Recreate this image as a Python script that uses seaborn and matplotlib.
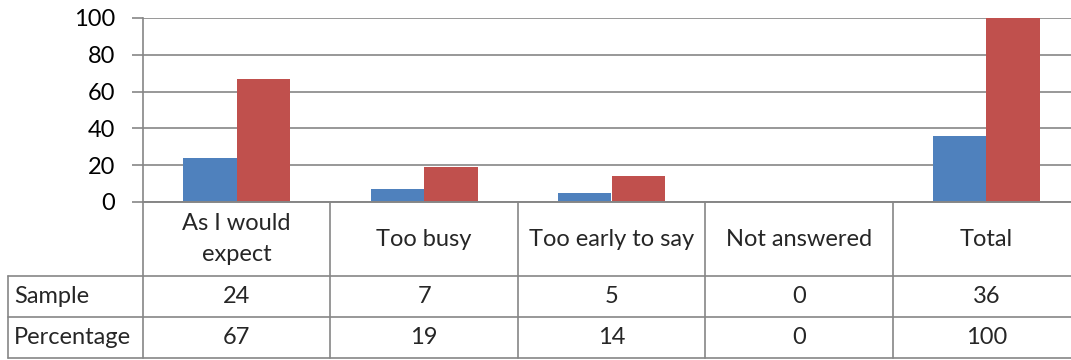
import matplotlib
matplotlib.use("Agg")
import matplotlib.pyplot as plt
import seaborn as sns
import pandas as pd

categories = ["As I would\nexpect", "Too busy", "Too early to say", "Not answered", "Total"]
series_names = ["Sample", "Percentage"]
sample = [24, 7, 5, 0, 36]
percentage = [67, 19, 14, 0, 100]
y_ticks = [0, 20, 40, 60, 80, 100]

colors = ["#4F81BD", "#C0504D"]
grid_color = "#868686"
font = "Lato"

df = pd.DataFrame({
    "category": categories * 2,
    "series": [series_names[0]] * len(categories) + [series_names[1]] * len(categories),
    "value": sample + percentage,
})

sns.set_theme(style="white")
plt.rcParams["font.family"] = [font, "DejaVu Sans"]

W, H = 1071, 360
fig = plt.figure(figsize=(W / 100, H / 100), dpi=100)

# plot area in pixel coordinates of the figure
px_left, px_right, px_top, px_bottom = 143, 1080, 18, 202
ax = fig.add_axes([px_left / W, 1 - px_bottom / H,
                   (px_right - px_left) / W, (px_bottom - px_top) / H])

sns.barplot(data=df, x="category", y="value", hue="series", order=categories,
            hue_order=series_names, palette=colors, width=0.57, gap=0,
            saturation=1, ax=ax, legend=False, linewidth=0)

fs = 17
ax.set_xlim(-0.5, len(categories) - 0.5)
ax.set_ylim(0, 100)
ax.set_yticks(y_ticks)
ax.set_yticklabels([str(t) for t in y_ticks], fontsize=fs, color="black")
ax.set_xticks([])
ax.set_xlabel("")
ax.set_ylabel("")
ax.yaxis.grid(True, color=grid_color, linewidth=1.2)
ax.set_axisbelow(True)
for s in ["top", "right"]:
    ax.spines[s].set_visible(False)
ax.spines["left"].set_color(grid_color)
ax.spines["left"].set_linewidth(1.2)
ax.spines["bottom"].set_color(grid_color)
ax.spines["bottom"].set_linewidth(1.2)
ax.tick_params(axis="y", direction="out", length=8, width=1.2, color=grid_color, pad=12, left=True)

# data table below the plot
tb_left, tb_bottom = 8, 358
cat_px = (px_right - px_left) / len(categories)
tax = fig.add_axes([tb_left / W, 1 - tb_bottom / H,
                    (px_right - tb_left) / W, (tb_bottom - px_bottom) / H])
x0 = -0.5 - (px_left - tb_left) / cat_px
tax.set_xlim(x0, len(categories) - 0.5)
tax.set_ylim(tb_bottom - px_bottom, 0)
tax.axis("off")

row_edges = [0, 74, 115, 156]
lw = 1.2
# horizontal rules
tax.plot([-0.5, len(categories) - 0.5], [row_edges[0]] * 2, color=grid_color, lw=lw, clip_on=False)
for r in row_edges[1:]:
    tax.plot([x0, len(categories) - 0.5], [r, r], color=grid_color, lw=lw, clip_on=False)
# vertical rules
tax.plot([x0, x0], [row_edges[1], row_edges[3]], color=grid_color, lw=lw, clip_on=False)
for i in range(len(categories) + 1):
    tax.plot([i - 0.5, i - 0.5], [row_edges[0], row_edges[3]], color=grid_color, lw=lw, clip_on=False)

for i, c in enumerate(categories):
    tax.text(i, (row_edges[0] + row_edges[1]) / 2, c, ha="center", va="center",
             fontsize=fs, linespacing=1.55)
rows = [sample, percentage]
for j, (name, vals) in enumerate(zip(series_names, rows)):
    yc = (row_edges[j + 1] + row_edges[j + 2]) / 2
    tax.text(x0 + 6 / cat_px, yc, name, ha="left", va="center", fontsize=fs)
    for i, v in enumerate(vals):
        tax.text(i, yc, str(v), ha="center", va="center", fontsize=fs)

fig.savefig("out.png", dpi=100)
